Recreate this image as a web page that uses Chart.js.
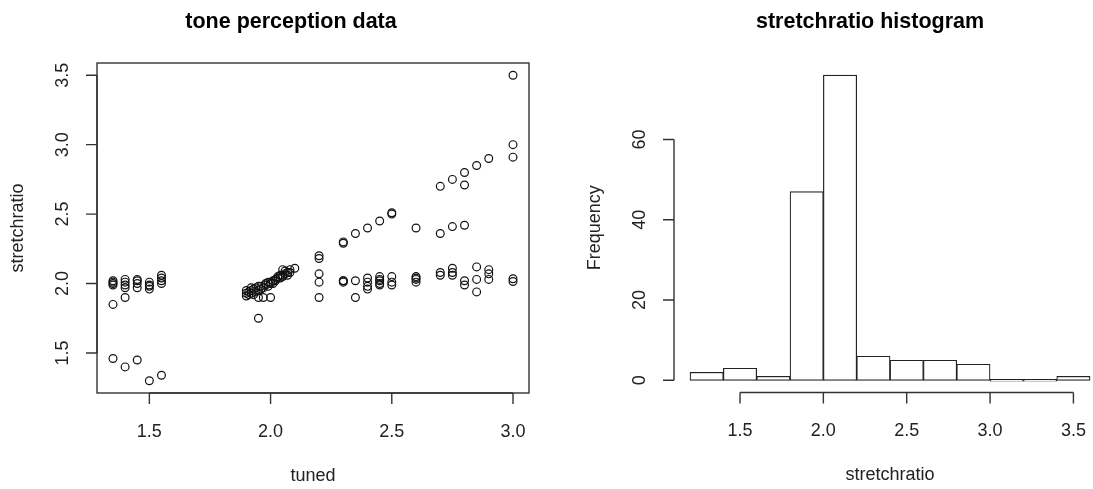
<!DOCTYPE html>
<html>
<head>
<meta charset="utf-8">
<title>tone perception data</title>
<script src="https://cdn.jsdelivr.net/npm/chart.js@4.4.1/dist/chart.umd.min.js"></script>
<style>
  html, body { margin: 0; padding: 0; background: #fff; overflow: hidden; }
  #left { position: absolute; left: 0; top: 0; }
  #right { position: absolute; left: 546px; top: 0; }
</style>
</head>
<body>
<canvas id="left" width="546" height="489"></canvas>
<canvas id="right" width="547" height="489"></canvas>
<script>
// tone perception data
const tuned = [
  1.35, 1.35, 1.35, 1.35, 1.35, 1.35,
  1.40, 1.40, 1.40, 1.40, 1.40, 1.40,
  1.45, 1.45, 1.45, 1.45, 1.45,
  1.50, 1.50, 1.50, 1.50, 1.50,
  1.55, 1.55, 1.55, 1.55, 1.55,
  1.90, 1.90, 1.90, 1.91, 1.91, 1.92, 1.92, 1.92, 1.93, 1.93, 1.94, 1.94,
  1.95, 1.95, 1.95, 1.95, 1.96, 1.96, 1.97, 1.97, 1.98, 1.98, 1.99, 1.99,
  2.00, 2.00, 2.00, 2.01, 2.01, 2.02, 2.02, 2.03, 2.03, 2.04, 2.04,
  2.05, 2.05, 2.05, 2.06, 2.06, 2.07, 2.07, 2.08, 2.08, 2.10,
  2.20, 2.20, 2.20, 2.20, 2.20,
  2.30, 2.30, 2.30, 2.30, 2.30,
  2.35, 2.35, 2.35,
  2.40, 2.40, 2.40, 2.40, 2.40,
  2.45, 2.45, 2.45, 2.45, 2.45, 2.45,
  2.50, 2.50, 2.50, 2.50, 2.50,
  2.60, 2.60, 2.60, 2.60, 2.60,
  2.70, 2.70, 2.70, 2.70,
  2.75, 2.75, 2.75, 2.75, 2.75,
  2.80, 2.80, 2.80, 2.80, 2.80,
  2.85, 2.85, 2.85, 2.85,
  2.90, 2.90, 2.90, 2.90,
  3.00, 3.00, 3.00, 3.00, 3.00
];
const stretchratio = [
  2.02, 2.01, 1.99, 2.00, 1.85, 1.46,
  2.03, 2.01, 1.99, 1.97, 1.90, 1.40,
  2.03, 2.02, 2.00, 1.97, 1.45,
  2.01, 1.99, 1.98, 1.96, 1.30,
  2.06, 2.04, 2.02, 2.00, 1.34,
  1.91, 1.93, 1.95, 1.92, 1.94, 1.93, 1.95, 1.97, 1.92, 1.96, 1.94, 1.97,
  1.95, 1.98, 1.75, 1.90, 1.96, 1.98, 1.97, 1.90, 1.99, 2.00, 1.98, 2.01,
  2.00, 2.01, 1.90, 2.02, 2.00, 2.02, 2.03, 2.04, 2.05, 2.04, 2.06,
  2.05, 2.06, 2.10, 2.07, 2.09, 2.06, 2.08, 2.08, 2.10, 2.11,
  2.20, 2.18, 2.07, 2.01, 1.90,
  2.30, 2.29, 2.02, 2.01, 2.02,
  2.36, 2.02, 1.90,
  2.40, 2.04, 2.01, 1.98, 1.96,
  2.45, 2.05, 2.03, 2.02, 2.00, 1.99,
  2.51, 2.50, 2.05, 2.01, 1.99,
  2.40, 2.05, 2.04, 2.03, 2.01,
  2.70, 2.36, 2.08, 2.06,
  2.75, 2.41, 2.11, 2.08, 2.06,
  2.80, 2.71, 2.42, 2.02, 1.99,
  2.85, 2.12, 2.03, 1.94,
  2.90, 2.10, 2.07, 2.03,
  3.50, 3.00, 2.91, 2.035, 2.015
];

// histogram of stretchratio
const binEdges = [1.2, 1.4, 1.6, 1.8, 2.0, 2.2, 2.4, 2.6, 2.8, 3.0, 3.2, 3.4, 3.6];
const binCounts = [2, 3, 1, 47, 76, 6, 5, 5, 4, 0, 0, 1];

const scatterXTicks = [1.5, 2.0, 2.5, 3.0];
const scatterYTicks = [1.5, 2.0, 2.5, 3.0, 3.5];
const histXTicks = [1.5, 2.0, 2.5, 3.0, 3.5];
const histYTicks = [0, 20, 40, 60];

const FONT = '"Liberation Sans", Arial, sans-serif';

// R style axes: box, outward ticks, rotated y labels, titles
const rAxes = {
    id: 'rAxes',
    afterDraw(chart, args, o) {
        const ctx = chart.ctx;
        const a = chart.chartArea;
        const xs = chart.scales.x, ys = chart.scales.y;
        const tick = 11;
        ctx.save();
        ctx.strokeStyle = '#333';
        ctx.lineWidth = 1.4;

        if (o.box) ctx.strokeRect(a.left, a.top, a.right - a.left, a.bottom - a.top);

        // x axis
        const xp = o.xTicks.map(v => xs.getPixelForValue(v));
        ctx.beginPath();
        ctx.moveTo(xp[0], a.bottom);
        ctx.lineTo(xp[xp.length - 1], a.bottom);
        xp.forEach(p => { ctx.moveTo(p, a.bottom); ctx.lineTo(p, a.bottom + tick); });
        // y axis
        const yp = o.yTicks.map(v => ys.getPixelForValue(v));
        ctx.moveTo(a.left, yp[0]);
        ctx.lineTo(a.left, yp[yp.length - 1]);
        yp.forEach(p => { ctx.moveTo(a.left, p); ctx.lineTo(a.left - tick, p); });
        ctx.stroke();

        ctx.fillStyle = '#222';
        ctx.font = '18px ' + FONT;
        ctx.textAlign = 'center';
        ctx.textBaseline = 'middle';
        o.xTicks.forEach((v, i) => ctx.fillText(o.fmt(v), xp[i], a.bottom + 39));
        o.yTicks.forEach((v, i) => {
            ctx.save();
            ctx.translate(a.left - 34, yp[i]);
            ctx.rotate(-Math.PI / 2);
            ctx.fillText(o.fmt(v), 0, 0);
            ctx.restore();
        });

        const midX = xs.getPixelForValue(o.xMid);
        ctx.fillText(o.xLabel, midX, a.bottom + 83);
        ctx.save();
        ctx.translate(a.left - 79, (a.top + a.bottom) / 2);
        ctx.rotate(-Math.PI / 2);
        ctx.fillText(o.yLabel, 0, 0);
        ctx.restore();

        ctx.fillStyle = '#000';
        ctx.font = 'bold 21.5px ' + FONT;
        ctx.fillText(o.title, midX + o.titleShift, a.top - 41);
        ctx.restore();
    }
};

new Chart(document.getElementById('left'), {
    type: 'scatter',
    data: {
        datasets: [{
            data: tuned.map((t, i) => ({ x: t, y: stretchratio[i] })),
            pointStyle: 'circle',
            pointRadius: 3.9,
            borderWidth: 1.2,
            borderColor: '#111',
            backgroundColor: 'rgba(0,0,0,0)'
        }]
    },
    options: {
        responsive: false,
        animation: false,
        layout: { padding: { left: 97, right: 17, top: 63, bottom: 96 } },
        plugins: {
            legend: { display: false },
            tooltip: { enabled: false },
            rAxes: {
                box: true,
                xTicks: scatterXTicks, yTicks: scatterYTicks,
                fmt: v => v.toFixed(1),
                xMid: 2.175, xLabel: 'tuned', yLabel: 'stretchratio',
                title: 'tone perception data', titleShift: -22
            }
        },
        scales: {
            x: { type: 'linear', display: false, min: 1.284, max: 3.066 },
            y: { type: 'linear', display: false, min: 1.212, max: 3.588 }
        }
    },
    plugins: [rAxes]
});

new Chart(document.getElementById('right'), {
    type: 'bar',
    data: {
        datasets: [{
            data: binCounts.map((c, i) => ({ x: (binEdges[i] + binEdges[i + 1]) / 2, y: c })),
            backgroundColor: '#fff',
            borderColor: '#222',
            borderWidth: 1.2,
            borderSkipped: false,
            barPercentage: 1,
            categoryPercentage: 1,
            minBarLength: 1.7
        }]
    },
    options: {
        responsive: false,
        animation: false,
        layout: { padding: { left: 128, right: 0, top: 63, bottom: 96.5 } },
        plugins: {
            legend: { display: false },
            tooltip: { enabled: false },
            rAxes: {
                box: false,
                xTicks: histXTicks, yTicks: histYTicks,
                fmt: v => Number.isInteger(v) && v >= 10 || v === 0 ? String(v) : v.toFixed(1),
                xMid: 2.4, xLabel: 'stretchratio', yLabel: 'Frequency',
                title: 'stretchratio histogram', titleShift: -20
            }
        },
        scales: {
            x: { type: 'linear', display: false, offset: false, min: 1.104, max: 3.6175 },
            y: { type: 'linear', display: false, min: -3.04, max: 79.04 }
        }
    },
    plugins: [rAxes]
});
</script>
</body>
</html>
